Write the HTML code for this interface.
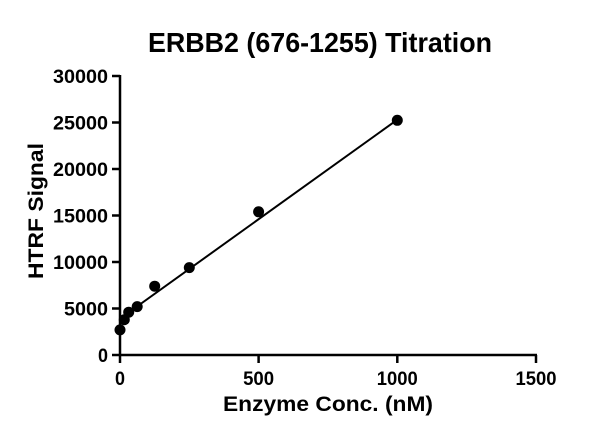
<!DOCTYPE html>
<html><head><style>body{margin:0;background:#fff}</style></head><body>
<svg width="600" height="441" xmlns="http://www.w3.org/2000/svg" font-family="Liberation Sans, Arial, sans-serif" font-weight="bold">
<text x="320" y="52" font-size="28" text-anchor="middle" textLength="344" lengthAdjust="spacingAndGlyphs">ERBB2 (676-1255) Titration</text>
<g stroke="#000" stroke-width="2.5" fill="none">
<line x1="120" y1="75" x2="120" y2="356"/>
<line x1="119" y1="355" x2="537" y2="355"/>
<line x1="112" y1="76" x2="120" y2="76"/>
<line x1="112" y1="122.5" x2="120" y2="122.5"/>
<line x1="112" y1="169" x2="120" y2="169"/>
<line x1="112" y1="215.5" x2="120" y2="215.5"/>
<line x1="112" y1="262" x2="120" y2="262"/>
<line x1="112" y1="308.5" x2="120" y2="308.5"/>
<line x1="112" y1="355" x2="120" y2="355"/>
<line x1="120" y1="355" x2="120" y2="363"/>
<line x1="258.6" y1="355" x2="258.6" y2="363"/>
<line x1="397.3" y1="355" x2="397.3" y2="363"/>
<line x1="536" y1="355" x2="536" y2="363"/>
</g>
<g font-size="19" text-anchor="end">
<text x="108" y="83" textLength="55" lengthAdjust="spacingAndGlyphs">30000</text>
<text x="108" y="129.5" textLength="55" lengthAdjust="spacingAndGlyphs">25000</text>
<text x="108" y="176" textLength="55" lengthAdjust="spacingAndGlyphs">20000</text>
<text x="108" y="222.5" textLength="55" lengthAdjust="spacingAndGlyphs">15000</text>
<text x="108" y="269" textLength="55" lengthAdjust="spacingAndGlyphs">10000</text>
<text x="108" y="315.5" textLength="44" lengthAdjust="spacingAndGlyphs">5000</text>
<text x="108" y="362" textLength="10" lengthAdjust="spacingAndGlyphs">0</text>
</g>
<g font-size="19" text-anchor="middle">
<text x="120" y="385" textLength="10" lengthAdjust="spacingAndGlyphs">0</text>
<text x="258.6" y="385" textLength="31" lengthAdjust="spacingAndGlyphs">500</text>
<text x="397.3" y="385" textLength="41" lengthAdjust="spacingAndGlyphs">1000</text>
<text x="536" y="385" textLength="41" lengthAdjust="spacingAndGlyphs">1500</text>
</g>
<text x="328" y="411" font-size="21" text-anchor="middle" textLength="210" lengthAdjust="spacingAndGlyphs">Enzyme Conc. (nM)</text>
<text transform="translate(43,211) rotate(-90)" font-size="21" text-anchor="middle" textLength="136" lengthAdjust="spacingAndGlyphs">HTRF Signal</text>
<line x1="120" y1="318.7" x2="397.3" y2="119.7" stroke="#000" stroke-width="2"/>
<g fill="#000">
<circle cx="120" cy="329.9" r="5.5"/>
<circle cx="124.3" cy="319.7" r="5.5"/>
<circle cx="128.7" cy="312.2" r="5.5"/>
<circle cx="137.2" cy="306.6" r="5.5"/>
<circle cx="154.7" cy="286.2" r="5.5"/>
<circle cx="189.3" cy="267.6" r="5.5"/>
<circle cx="258.6" cy="211.8" r="5.5"/>
<circle cx="397.3" cy="120.3" r="5.5"/>
</g>
</svg>
</body></html>
